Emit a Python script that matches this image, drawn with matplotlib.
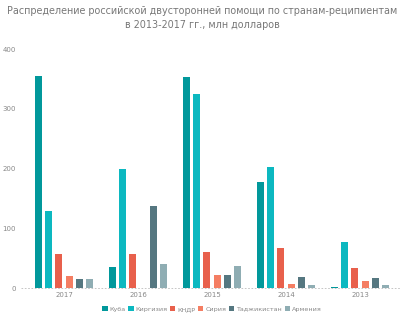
import matplotlib.pyplot as plt
import numpy as np

# Данные
years = ['2017', '2016', '2015', '2014', '2013']
countries = ['Куба', 'Киргизия', 'КНДР', 'Сирия', 'Таджикистан', 'Армения']
kuba = [355, 35, 354, 177, 2]
kirgiziya = [130, 200, 325, 203, 77]
kndr = [58, 58, 60, 68, 34]
siriya = [20, 0.5, 22, 7, 13]
tadzhikistan = [16, 137, 22, 19, 17]
armeniya = [16, 40, 37, 5, 5]
colors = ['#01989b', '#0cb8c0', '#e8604c', '#f47e63', '#557780', '#8fadb3']

series = [kuba, kirgiziya, kndr, siriya, tadzhikistan, armeniya]

fig = plt.figure(figsize=(4.05, 3.33), dpi=100)
ax = fig.add_axes([27 / 405, 1 - 288.3 / 333, 370 / 405, (288.3 - 49) / 333])

x = np.arange(len(years))
stride = 0.138
width = 0.095
for i, (vals, name, c) in enumerate(zip(series, countries, colors)):
    ax.bar(x + (i - 2.5) * stride, vals, width, color=c, label=name)

ax.set_xlim(-0.5, 4.5)
ax.set_ylim(0, 400)
ax.set_yticks([0, 100, 200, 300, 400])
ax.set_xticks(x)
ax.set_xticklabels(years)
ax.tick_params(length=0, labelsize=5, colors='#888888')
ax.tick_params(axis='y', pad=8)
ax.tick_params(axis='x', pad=3)
for s in ax.spines.values():
    s.set_visible(False)
ax.axhline(0, xmin=-0.015, xmax=1.01, color='#bbbbbb', lw=0.6, ls=(0, (2, 2)), clip_on=False)

fig.text(0.5, 0.982, 'Распределение российской двусторонней помощи по странам-реципиентам\nв 2013-2017 гг., млн долларов',
         ha='center', va='top', fontsize=6.9, color='#777777', linespacing=1.45)

ax.legend(loc='upper center', bbox_to_anchor=(0.5, -0.05), ncol=6, frameon=False,
          fontsize=4.6, handlelength=0.8, handleheight=0.8, handletextpad=0.3,
          columnspacing=0.45, labelcolor='#888888')

fig.savefig('out.png', dpi=100, facecolor='white')
